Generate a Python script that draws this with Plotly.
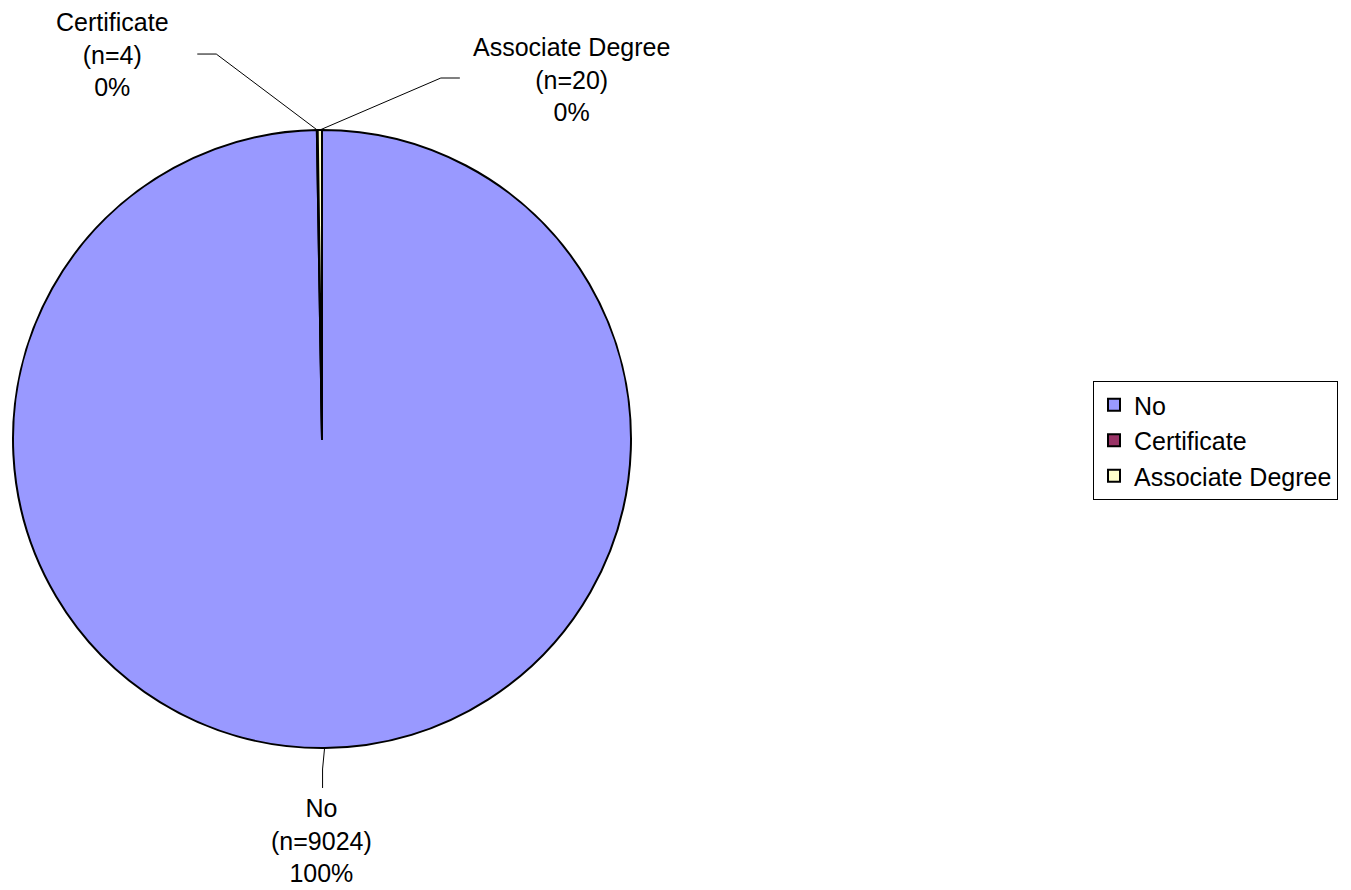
import math
import plotly.graph_objects as go

# ---- data ----
categories = ["No", "Certificate", "Associate Degree"]
counts = [9024, 4, 20]
colors = ["#9999FF", "#993366", "#FFFFCC"]

# ---- layout constants (pixels) ----
W, H = 1351, 890
CX, CY, R = 322, 439, 309
FONT = "Arial, Liberation Sans, sans-serif"
FS = 25

# label placement: offsets (elbow, end of leader, label centre) relative to slice edge point
label_style = {
    "No": dict(elbow=(-2, 21), end=(-2, 40), label=(-3, 93)),
    "Certificate": dict(elbow=(-101, -76), end=(-120, -76), label=(-205, -76)),
    "Associate Degree": dict(elbow=(121, -52), end=(140, -52), label=(252, -51)),
}

fig = go.Figure(go.Pie(
    labels=categories,
    values=counts,
    sort=False,
    direction="clockwise",
    rotation=0,
    marker=dict(colors=colors, line=dict(color="black", width=2)),
    textinfo="none",
    hoverinfo="label+value+percent",
    domain=dict(x=[(CX - R) / W, (CX + R) / W],
                y=[1 - (CY + R) / H, 1 - (CY - R) / H]),
))

def px(x, y):
    return x / W, 1 - y / H

total = sum(counts)
cum = 0
shapes, annotations = [], []
for cat, n in zip(categories, counts):
    mid = (cum + n / 2) / total
    cum += n
    th = 2 * math.pi * mid
    ex, ey = CX + R * math.sin(th), CY - R * math.cos(th)
    st = label_style[cat]
    pts = [(ex, ey), (ex + st["elbow"][0], ey + st["elbow"][1]), (ex + st["end"][0], ey + st["end"][1])]
    path = "M " + " L ".join(f"{px(x, y)[0]},{px(x, y)[1]}" for x, y in pts)
    shapes.append(dict(type="path", path=path, xref="paper", yref="paper",
                       line=dict(color="black", width=1)))
    lx, ly = px(ex + st["label"][0], ey + st["label"][1])
    pct = round(100 * n / total)
    annotations.append(dict(
        x=lx, y=ly, xref="paper", yref="paper", showarrow=False,
        text=f"{cat}<br>(n={n})<br>{pct}%", align="center",
        xanchor="center", yanchor="middle",
        font=dict(family=FONT, size=FS, color="black"),
    ))

fig.update_layout(
    width=W, height=H,
    margin=dict(l=0, r=0, t=0, b=0),
    paper_bgcolor="white", plot_bgcolor="white",
    showlegend=True,
    legend=dict(
        x=1093 / W, y=1 - 381 / H, xanchor="left", yanchor="top",
        bordercolor="black", borderwidth=1, bgcolor="white",
        font=dict(family=FONT, size=FS, color="black"),
        itemwidth=30, tracegroupgap=0,
    ),
    shapes=shapes,
    annotations=annotations,
)

fig.write_html("out.html",
               config={"displayModeBar": False},
               post_script="document.body.style.margin='0';document.body.style.overflow='hidden';")
